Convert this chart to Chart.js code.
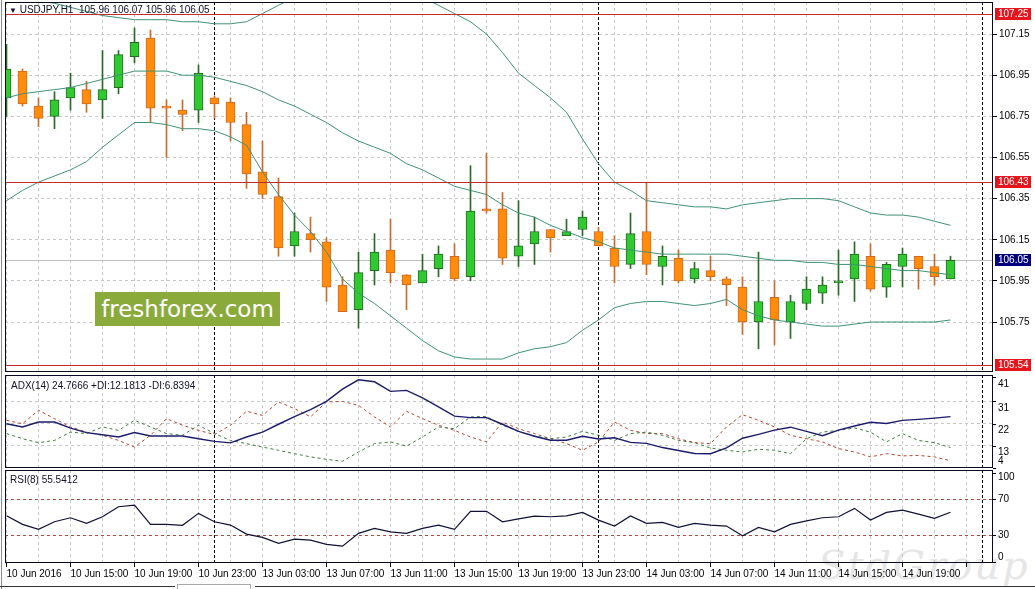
<!DOCTYPE html>
<html>
<head>
<meta charset="utf-8">
<title>USDJPY H1</title>
<script src="https://cdn.jsdelivr.net/npm/chart.js@4.4.1/dist/chart.umd.min.js"></script>
<style>
  html, body { margin: 0; padding: 0; background: #fff; }
  #wrap { position: relative; width: 1035px; height: 589px; overflow: hidden; background: #fff; }
  #wrap canvas { position: absolute; left: 0; }
  .txt { position: absolute; font: 10px "Liberation Sans Narrow", "Liberation Sans", Arial, sans-serif; color: #10102a; white-space: pre; line-height: 12px; }
  #brand { position: absolute; left: 95px; top: 292px; width: 185px; height: 34px; background: #8aab3c; color: #fff;
           font: 23px "DejaVu Sans", sans-serif; line-height: 34px; text-align: center; }
  #wm { position: absolute; left: 818px; top: 542px; font: italic 40px "DejaVu Serif", serif; color: #e6e6e6; letter-spacing: 2px; }
  .edge { position: absolute; }
</style>
</head>
<body>
<div id="wrap">
  <div id="wm">StdGroup</div>
  <canvas id="main" width="1035" height="374" style="top:0"></canvas>
  <canvas id="adx" width="1035" height="95" style="top:374px"></canvas>
  <canvas id="rsi" width="1035" height="120" style="top:469px"></canvas>
  <div class="txt" id="title" style="left:9px;top:4px"></div>
  <div class="txt" style="left:11px;top:380px">ADX(14) 24.7666 +DI:12.1813 -DI:6.8394</div>
  <div class="txt" style="left:10px;top:474px">RSI(8) 55.5412</div>
  <div id="brand">freshforex.com</div>
  <div class="edge" style="left:1px;top:0;width:1px;height:589px;background:#8a8a8a"></div>
  <div class="edge" style="left:0;top:586px;width:175px;height:1px;background:#333"></div>
  <div class="edge" style="left:177px;top:584px;width:72px;height:5px;border:1px solid #aaa;border-bottom:none"></div>
  <div class="edge" style="left:255px;top:586px;width:780px;height:1px;background:#333"></div>
</div>
<script>
// =======================
// Data (USDJPY, H1, 10 Jun 11:00 .. 14 Jun 22:00)
// =======================
const xLabels = ['10 Jun 2016', '10 Jun 15:00', '10 Jun 19:00', '10 Jun 23:00', '13 Jun 03:00',
  '13 Jun 07:00', '13 Jun 11:00', '13 Jun 15:00', '13 Jun 19:00', '13 Jun 23:00',
  '14 Jun 03:00', '14 Jun 07:00', '14 Jun 11:00', '14 Jun 15:00', '14 Jun 19:00'];

const openP = [
  106.84, 106.97, 106.80, 106.75, 106.84, 106.88, 106.83, 106.89, 107.04, 107.13,
  106.80, 106.78, 106.78, 106.84, 106.82, 106.71, 106.48, 106.36, 106.12, 106.18,
  106.14, 105.93, 105.81, 106.00, 106.10, 105.98, 105.94, 106.01, 106.07, 105.97,
  106.30, 106.30, 106.07, 106.13, 106.20, 106.17, 106.20, 106.19, 106.11, 106.03,
  106.19, 106.02, 106.06, 105.96, 106.00, 105.96, 105.92, 105.75, 105.87, 105.75,
  105.84, 105.89, 105.94, 105.96, 106.07, 105.92, 106.02, 106.07, 106.02, 105.96];
const highP = [
  107.10, 106.98, 106.84, 106.87, 106.96, 106.92, 107.07, 107.07, 107.18, 107.17,
  106.83, 106.83, 107.00, 106.85, 106.84, 106.77, 106.63, 106.45, 106.28, 106.26,
  106.16, 105.97, 106.09, 106.18, 106.25, 105.98, 106.08, 106.12, 106.13, 106.51,
  106.57, 106.38, 106.34, 106.26, 106.20, 106.25, 106.29, 106.21, 106.17, 106.28,
  106.43, 106.12, 106.10, 106.04, 106.07, 105.97, 105.97, 106.09, 105.95, 105.88,
  105.97, 105.97, 106.10, 106.14, 106.13, 106.04, 106.11, 106.07, 106.08, 106.07];
const lowP = [
  106.75, 106.80, 106.70, 106.69, 106.78, 106.77, 106.74, 106.86, 107.01, 106.72,
  106.55, 106.68, 106.72, 106.74, 106.63, 106.40, 106.35, 106.07, 106.07, 106.09,
  105.85, 105.80, 105.72, 105.93, 105.94, 105.81, 105.94, 105.97, 105.95, 105.95,
  106.28, 106.03, 106.02, 106.03, 106.09, 106.17, 106.17, 106.12, 105.94, 106.01,
  105.98, 105.93, 105.94, 105.94, 105.95, 105.83, 105.69, 105.62, 105.64, 105.67,
  105.81, 105.84, 105.88, 105.85, 105.90, 105.87, 105.92, 105.91, 105.93, 105.96];
const closeP = [
  106.98, 106.81, 106.74, 106.83, 106.89, 106.81, 106.88, 107.05, 107.11, 106.79,
  106.79, 106.76, 106.96, 106.81, 106.72, 106.47, 106.37, 106.11, 106.19, 106.15,
  105.92, 105.80, 105.99, 106.09, 105.99, 105.93, 106.00, 106.08, 105.96, 106.29,
  106.29, 106.06, 106.12, 106.19, 106.16, 106.19, 106.26, 106.12, 106.02, 106.18,
  106.03, 106.07, 105.95, 106.01, 105.97, 105.93, 105.75, 105.85, 105.76, 105.85,
  105.91, 105.93, 105.95, 106.08, 105.91, 106.03, 106.08, 106.01, 105.97, 106.05];

// Bollinger bands
const bbUpper = [
  107.34, 107.33, 107.31, 107.30, 107.28, 107.26, 107.24, 107.23, 107.22, 107.22,
  107.22, 107.21, 107.21, 107.20, 107.20, 107.21, 107.25, 107.29, 107.33, 107.33,
  107.35, 107.38, 107.37, 107.36, 107.36, 107.32, 107.33, 107.29, 107.25, 107.21,
  107.15, 107.06, 106.96, 106.90, 106.84, 106.77, 106.64, 106.52, 106.43, 106.39,
  106.34, 106.33, 106.32, 106.31, 106.31, 106.30, 106.32, 106.33, 106.34, 106.35,
  106.35, 106.35, 106.34, 106.31, 106.28, 106.27, 106.27, 106.26, 106.24, 106.22];
const bbMiddle = [
  106.84, 106.86, 106.87, 106.88, 106.89, 106.91, 106.93, 106.95, 106.97, 106.97,
  106.97, 106.95, 106.95, 106.94, 106.92, 106.90, 106.87, 106.83, 106.80, 106.76,
  106.72, 106.67, 106.63, 106.60, 106.57, 106.52, 106.49, 106.45, 106.41, 106.39,
  106.37, 106.32, 106.28, 106.26, 106.22, 106.19, 106.16, 106.14, 106.11, 106.10,
  106.09, 106.08, 106.08, 106.08, 106.08, 106.08, 106.07, 106.06, 106.05, 106.05,
  106.04, 106.04, 106.03, 106.03, 106.02, 106.01, 106.00, 106.00, 105.99, 105.98];
const bbLower = [
  106.34, 106.39, 106.43, 106.46, 106.49, 106.53, 106.60, 106.66, 106.72, 106.72,
  106.71, 106.69, 106.69, 106.68, 106.65, 106.61, 106.48, 106.37, 106.27, 106.19,
  106.09, 105.96, 105.89, 105.84, 105.78, 105.72, 105.66, 105.61, 105.58, 105.57,
  105.57, 105.57, 105.60, 105.62, 105.63, 105.65, 105.71, 105.76, 105.82, 105.84,
  105.85, 105.85, 105.84, 105.83, 105.84, 105.86, 105.81, 105.78, 105.76, 105.75,
  105.74, 105.73, 105.73, 105.74, 105.75, 105.75, 105.75, 105.75, 105.75, 105.76];

// horizontal price levels drawn on the chart
const priceLevels = [107.25, 106.43, 105.54];
const priceTicks = [107.15, 106.95, 106.75, 106.55, 106.35, 106.15, 105.95, 105.75];

// ADX(14)
const adxMain = [
  21.9, 20.6, 22.6, 22.6, 20.1, 18.3, 17.4, 16.5, 18.3, 16.9,
  16.9, 16.9, 15.8, 14.7, 14.1, 16.5, 18.5, 21.7, 24.8, 27.7,
  31.0, 36.0, 39.8, 39.0, 35.1, 35.5, 32.4, 28.8, 25.0, 24.4,
  24.4, 21.7, 18.8, 16.8, 15.2, 15.2, 16.8, 15.7, 16.2, 14.3,
  13.9, 12.2, 11.0, 9.8, 9.7, 12.1, 16.0, 17.6, 19.3, 20.5,
  18.8, 17.0, 19.3, 21.0, 22.5, 22.0, 23.3, 23.7, 24.2, 24.8];
const plusDI = [
  17.9, 15.8, 14.2, 15.1, 18.5, 17.9, 20.6, 19.2, 23.3, 20.6,
  17.9, 17.2, 21.3, 17.9, 15.1, 13.8, 12.4, 11.1, 9.7, 8.4,
  7.4, 6.6, 10.4, 13.8, 14.5, 12.8, 16.5, 20.6, 19.9, 24.7,
  24.9, 21.3, 18.8, 16.9, 15.8, 16.5, 18.8, 17.2, 15.1, 17.9,
  18.5, 17.2, 15.1, 14.2, 12.0, 11.1, 10.4, 11.5, 11.1, 9.7,
  15.8, 18.5, 19.2, 20.2, 18.5, 14.5, 17.9, 15.1, 14.2, 12.2];
const minusDI = [
  23.3, 21.9, 27.4, 24.0, 20.6, 18.5, 17.2, 15.1, 12.4, 17.2,
  24.0, 21.3, 19.2, 17.5, 21.3, 27.0, 25.3, 30.8, 28.1, 24.7,
  30.8, 31.0, 29.4, 24.7, 20.6, 27.0, 24.0, 21.3, 19.2, 16.5,
  14.5, 22.6, 19.9, 17.9, 15.8, 13.8, 11.1, 14.5, 22.6, 19.2,
  17.9, 17.9, 15.8, 14.2, 13.8, 20.6, 25.6, 23.3, 20.6, 17.2,
  15.8, 14.5, 11.8, 10.4, 8.4, 9.7, 8.8, 9.0, 8.4, 6.8];
const adxScaleLabels = [41, 31, 22, 13, 4];
const adxGridLevels = [31, 22, 13];

// RSI(8)
const rsiValues = [
  51.6, 42.0, 36.4, 44.9, 49.4, 43.1, 50.5, 61.7, 63.6, 42.0,
  42.0, 40.9, 54.3, 44.9, 41.2, 31.1, 27.4, 20.7, 25.5, 24.4,
  19.6, 17.7, 31.9, 37.5, 33.7, 31.9, 37.5, 41.2, 36.4, 56.6,
  56.6, 44.9, 48.2, 51.3, 50.5, 51.6, 55.4, 46.8, 40.1, 51.3,
  43.1, 44.2, 38.6, 43.1, 41.2, 40.1, 29.2, 38.6, 33.7, 42.0,
  46.0, 49.4, 50.5, 59.9, 46.8, 55.4, 58.0, 53.5, 48.7, 55.5];
const rsiScaleLabels = [100, 70, 30, 0];
const rsiLevels = [70, 30];

// bars where a new trading day starts (period separators)
const daySeparators = [13, 37, 61];

// =======================
// Setup
// =======================
const FONT = '"Liberation Sans Narrow", "Liberation Sans", Arial, sans-serif';
Chart.defaults.font.family = FONT;
Chart.defaults.font.size = 10;
Chart.defaults.color = '#000';

const last = closeP.length - 1;
const xMin = -0.09375;            // puts bar 0 on x = 6.5
const xMax = xMin + 988 / 16;     // 16 px per bar
const gridBars = Array.from({ length: 31 }, (_, k) => k * 2);
const GRID = '#c6c6c6';
const BAND = '#3f9274';

document.getElementById('title').innerHTML =
  '<span style="font-size:8px">&#9660;</span> USDJPY,H1  ' +
  [openP[last], highP[last], lowP[last], closeP[last]].map(v => v.toFixed(2)).join(' ');

function noPad(s) { s.paddingTop = 0; s.paddingBottom = 0; s.paddingLeft = 0; s.paddingRight = 0; }

function xAxis(showLabels) {
  return {
    type: 'linear', min: xMin, max: xMax, offset: false,
    afterBuildTicks: s => { s.ticks = gridBars.map(v => ({ value: v })); },
    afterFit: s => { s.height = showLabels ? 26 : 0; noPad(s); },
    ticks: {
      display: showLabels, autoSkip: false, maxRotation: 0, minRotation: 0, align: 'start', padding: 1,
      callback: v => (v % 4 === 0 && xLabels[v / 4]) ? xLabels[v / 4] : ''
    },
    grid: {
      offset: false, color: GRID, lineWidth: 1, drawTicks: showLabels, tickLength: 4,
      tickColor: c => (c.tick && c.tick.value % 4 === 0) ? '#000' : 'rgba(0,0,0,0)'
    },
    border: { display: false, dash: [3, 3] }
  };
}

function yAxis(min, max, ticks, showLabels, gridColor) {
  return {
    position: 'right', min: min, max: max,
    afterBuildTicks: s => { s.ticks = ticks.map(v => ({ value: v })); },
    afterFit: s => { s.width = 42; noPad(s); },
    ticks: { display: showLabels, padding: 2, callback: v => v.toFixed(2) },
    grid: { color: gridColor || GRID, drawTicks: showLabels, tickLength: 4, tickColor: '#000' },
    border: { display: false, dash: [3, 3] }
  };
}

function baseOptions(padding, scales) {
  return {
    responsive: false, animation: false, devicePixelRatio: 1, events: [],
    layout: { padding: padding },
    plugins: { legend: { display: false }, tooltip: { enabled: false } },
    scales: scales
  };
}

// separators + pane frame
const frame = {
  id: 'frame',
  beforeDatasetsDraw(chart) {
    const { ctx, chartArea: a, scales: { x } } = chart;
    ctx.save();
    ctx.strokeStyle = '#000';
    ctx.lineWidth = 1;
    ctx.setLineDash([3, 2]);
    daySeparators.forEach(b => {
      const px = Math.floor(x.getPixelForValue(b)) + 0.5;
      ctx.beginPath(); ctx.moveTo(px, a.top); ctx.lineTo(px, a.bottom); ctx.stroke();
    });
    ctx.restore();
  },
  afterDraw(chart) {
    const { ctx, chartArea: a } = chart;
    ctx.save();
    ctx.strokeStyle = '#0a0a20';
    ctx.lineWidth = 1;
    ctx.strokeRect(a.left + 0.5, a.top + 0.5, a.right - a.left - 1, a.bottom - a.top - 1);
    ctx.restore();
  }
};

function hLine(ctx, a, py, color) {
  const y = Math.round(py) + 0.5;
  ctx.strokeStyle = color;
  ctx.beginPath(); ctx.moveTo(a.left, y); ctx.lineTo(a.right, y); ctx.stroke();
}

function priceTag(ctx, x, py, text, bg) {
  const y = Math.round(py);
  ctx.fillStyle = bg;
  ctx.fillRect(x, y - 6, 36, 12);
  ctx.fillStyle = '#fff';
  ctx.textBaseline = 'middle';
  ctx.fillText(text, x + 3, y + 0.5);
}

// bid line, level lines and their tags
const levels = {
  id: 'levels',
  beforeDatasetsDraw(chart) {
    const { ctx, chartArea: a, scales: { y } } = chart;
    ctx.save();
    ctx.lineWidth = 1;
    hLine(ctx, a, y.getPixelForValue(closeP[last]), '#c0c0c0');
    ctx.restore();
  },
  afterDatasetsDraw(chart) {
    const { ctx, chartArea: a, scales: { y } } = chart;
    ctx.save();
    ctx.lineWidth = 1;
    priceLevels.forEach(v => hLine(ctx, a, y.getPixelForValue(v), '#c42a2a'));
    ctx.restore();
  },
  afterDraw(chart) {
    const { ctx, chartArea: a, scales: { y } } = chart;
    ctx.save();
    ctx.font = '10px ' + FONT;
    priceLevels.forEach(v => priceTag(ctx, a.right + 2, y.getPixelForValue(v), v.toFixed(2), '#e8141c'));
    priceTag(ctx, a.right + 2, y.getPixelForValue(closeP[last]), closeP[last].toFixed(2), '#000080');
    ctx.restore();
  }
};

// right-hand labels for the indicator panes
function sideLabels(values, place) {
  return {
    id: 'sideLabels',
    afterDraw(chart) {
      const { ctx, chartArea: a, scales: { y } } = chart;
      ctx.save();
      ctx.font = '10px ' + FONT;
      ctx.fillStyle = '#000';
      ctx.textBaseline = 'middle';
      values.forEach(v => {
        const py = y.getPixelForValue(v);
        ctx.fillRect(a.right, Math.round(py), 3, 1);
        ctx.fillText(String(v), a.right + 5, place(py, a));
      });
      ctx.restore();
    }
  };
}

const pts = arr => arr.map((v, i) => ({ x: i, y: v }));
const up = i => closeP[i] >= openP[i];

// =======================
// Main price pane
// =======================
new Chart(document.getElementById('main'), {
  type: 'bar',
  data: {
    datasets: [
      { type: 'line', data: pts(bbUpper), borderColor: BAND, borderWidth: 1, pointRadius: 0, order: 0 },
      { type: 'line', data: pts(bbMiddle), borderColor: BAND, borderWidth: 1, pointRadius: 0, order: 0 },
      { type: 'line', data: pts(bbLower), borderColor: BAND, borderWidth: 1, pointRadius: 0, order: 0 },
      {
        type: 'bar', grouped: false, order: 1,
        data: closeP.map((c, i) => ({ x: i, y: [openP[i], c] })),
        backgroundColor: closeP.map((c, i) => up(i) ? '#32c832' : '#ff8c0a'),
        borderColor: closeP.map((c, i) => up(i) ? '#1e6e1e' : '#d2691e'),
        borderWidth: 1, borderSkipped: false, barThickness: 9, minBarLength: 2
      },
      {
        type: 'bar', grouped: false, order: 2,
        data: closeP.map((c, i) => ({ x: i, y: [lowP[i], highP[i]] })),
        backgroundColor: closeP.map((c, i) => up(i) ? '#256d25' : '#d2691e'),
        borderWidth: 0, barThickness: 1
      }
    ]
  },
  options: baseOptions({ left: 5, right: 0, top: 2, bottom: 2 }, {
    x: xAxis(false),
    y: yAxis(105.507, 107.306, priceTicks, true)
  }),
  plugins: [frame, levels]
});

// =======================
// ADX pane
// =======================
new Chart(document.getElementById('adx'), {
  type: 'line',
  data: {
    datasets: [
      { data: pts(adxMain), borderColor: '#1c1c6e', borderWidth: 1.4, pointRadius: 0 },
      { data: pts(plusDI), borderColor: '#3d7d3d', borderWidth: 1, borderDash: [3, 3], pointRadius: 0 },
      { data: pts(minusDI), borderColor: '#b5452d', borderWidth: 1, borderDash: [3, 3], pointRadius: 0 }
    ]
  },
  options: baseOptions({ left: 5, right: 0, top: 1, bottom: 1 }, {
    x: xAxis(false),
    y: yAxis(3.87, 41.77, adxGridLevels, false)
  }),
  plugins: [frame, sideLabels(adxScaleLabels, (py, a) => Math.min(py + 7, a.bottom - 7))]
});

// =======================
// RSI pane
// =======================
new Chart(document.getElementById('rsi'), {
  type: 'line',
  data: {
    datasets: [
      { data: pts(rsiValues), borderColor: '#101038', borderWidth: 1.2, pointRadius: 0 }
    ]
  },
  options: baseOptions({ left: 5, right: 0, top: 1, bottom: 0 }, {
    x: xAxis(true),
    y: yAxis(-1.2, 102.8, rsiLevels, false, '#b5483a')
  }),
  plugins: [frame, sideLabels(rsiScaleLabels, (py, a) => Math.max(a.top + 7, Math.min(py, a.bottom - 6)))]
});
</script>
</body>
</html>
